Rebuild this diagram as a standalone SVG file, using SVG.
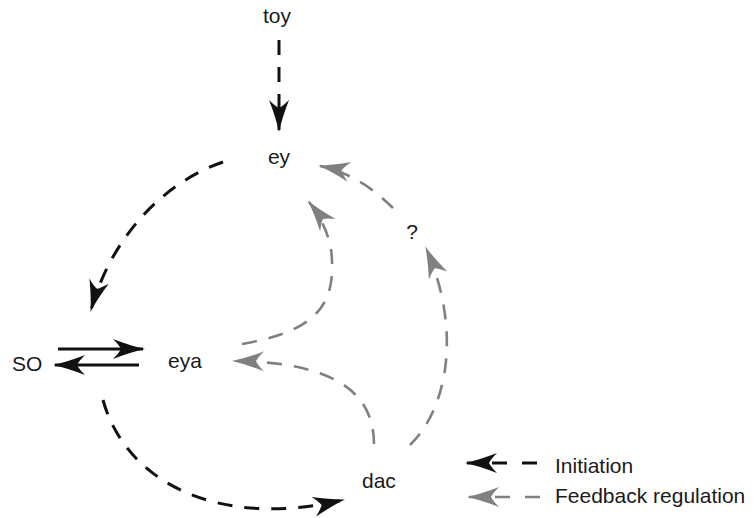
<svg xmlns="http://www.w3.org/2000/svg" width="756" height="518" viewBox="0 0 756 518">
<style>
text{font-family:"Liberation Sans",Arial,sans-serif;font-size:21px;fill:#1a1a1a}
.blk{fill:none;stroke:#111;stroke-width:3;stroke-dasharray:15 12}
.gry{fill:none;stroke:#808080;stroke-width:2.6;stroke-dasharray:15 12}
.sol{fill:none;stroke:#111;stroke-width:3}
.leg{stroke-dasharray:15 15}
</style>
<defs>
<marker id="hb" markerUnits="userSpaceOnUse" orient="auto" refX="0" refY="0" markerWidth="40" markerHeight="30" overflow="visible">
<path d="M2,0 Q-12,-3 -30,-10 Q-24,-4 -22,0 Q-24,4 -30,10 Q-12,3 2,0 Z" fill="#111"/>
</marker>
<marker id="hg" markerUnits="userSpaceOnUse" orient="auto" refX="0" refY="0" markerWidth="40" markerHeight="30" overflow="visible">
<path d="M2,0 Q-12,-3 -30,-10 Q-24,-4 -22,0 Q-24,4 -30,10 Q-12,3 2,0 Z" fill="#808080"/>
</marker>
</defs>
<g id="connectors">
<path class="blk" d="M279,40 L279,130" marker-end="url(#hb)"/>
<path class="blk" d="M223,162 C165,182 112,235 91,310" marker-end="url(#hb)"/>
<path class="blk" d="M103,400 C125,480 215,530 343,500" marker-end="url(#hb)"/>
<path class="sol" d="M58,349 L143,349" marker-end="url(#hb)"/>
<path class="sol" d="M139,365 L55,365" marker-end="url(#hb)"/>
<path class="gry" d="M374,444 C374,390 330,362 234,361" marker-end="url(#hg)"/>
<path class="gry" d="M242,344 C310,332 334,310 332,262 C332,240 322,218 309,202" marker-end="url(#hg)"/>
<path class="gry" d="M410,445 C448,408 462,330 426,248" marker-end="url(#hg)"/>
<path class="gry" d="M393,208 C375,190 350,172 320,166" marker-end="url(#hg)"/>
<path class="blk leg" d="M537,463 L467,463" marker-end="url(#hb)"/>
<path class="gry leg" d="M540,497 L469,497" marker-end="url(#hg)"/>
</g>
<g id="toy"><text x="277" y="23" text-anchor="middle">toy</text></g>
<g id="ey"><text x="279" y="164" text-anchor="middle">ey</text></g>
<g id="SO"><text x="12" y="371">SO</text></g>
<g id="eya"><text x="168" y="368">eya</text></g>
<g id="dac"><text x="362" y="488">dac</text></g>
<g id="q"><text x="412" y="239" text-anchor="middle">?</text></g>
<g id="legend">
<text x="555" y="473">Initiation</text>
<text x="555" y="503">Feedback regulation</text>
</g>
</svg>
